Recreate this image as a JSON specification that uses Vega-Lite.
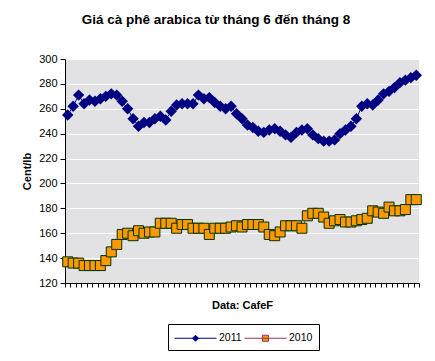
{
  "$schema": "https://vega.github.io/schema/vega-lite/v6.json",
  "width": 354,
  "height": 224,
  "autosize": {"type": "none"},
  "padding": {"left": 65, "top": 59, "right": 16, "bottom": 78},
  "background": "white",
  "config": {"view": {"fill": "#e2e2e5", "stroke": null}},
  "title": {
    "text": "Giá cà phê arabica từ tháng 6 đến tháng 8",
    "font": "Liberation Sans",
    "fontSize": 13.5,
    "fontWeight": "bold",
    "color": "black",
    "anchor": "middle",
    "frame": "group",
    "dx": -26,
    "offset": 16,
    "baseline": "alphabetic"
  },
  "data": {"values": [
    {"i":0,"year":"2011","v":255},{"i":1,"year":"2011","v":262},{"i":2,"year":"2011","v":271},{"i":3,"year":"2011","v":264},{"i":4,"year":"2011","v":267},
    {"i":5,"year":"2011","v":266},{"i":6,"year":"2011","v":268},{"i":7,"year":"2011","v":270},{"i":8,"year":"2011","v":272},{"i":9,"year":"2011","v":271},
    {"i":10,"year":"2011","v":266},{"i":11,"year":"2011","v":260},{"i":12,"year":"2011","v":252},{"i":13,"year":"2011","v":246},{"i":14,"year":"2011","v":249},
    {"i":15,"year":"2011","v":249},{"i":16,"year":"2011","v":252},{"i":17,"year":"2011","v":254},{"i":18,"year":"2011","v":251},{"i":19,"year":"2011","v":258},
    {"i":20,"year":"2011","v":263},{"i":21,"year":"2011","v":264},{"i":22,"year":"2011","v":264},{"i":23,"year":"2011","v":264},{"i":24,"year":"2011","v":271},
    {"i":25,"year":"2011","v":268},{"i":26,"year":"2011","v":269},{"i":27,"year":"2011","v":265},{"i":28,"year":"2011","v":262},{"i":29,"year":"2011","v":260},
    {"i":30,"year":"2011","v":262},{"i":31,"year":"2011","v":256},{"i":32,"year":"2011","v":252},{"i":33,"year":"2011","v":247},{"i":34,"year":"2011","v":245},
    {"i":35,"year":"2011","v":242},{"i":36,"year":"2011","v":241},{"i":37,"year":"2011","v":243},{"i":38,"year":"2011","v":244},{"i":39,"year":"2011","v":242},
    {"i":40,"year":"2011","v":239},{"i":41,"year":"2011","v":237},{"i":42,"year":"2011","v":241},{"i":43,"year":"2011","v":243},{"i":44,"year":"2011","v":244},
    {"i":45,"year":"2011","v":239},{"i":46,"year":"2011","v":236},{"i":47,"year":"2011","v":234},{"i":48,"year":"2011","v":234},{"i":49,"year":"2011","v":235},
    {"i":50,"year":"2011","v":240},{"i":51,"year":"2011","v":243},{"i":52,"year":"2011","v":246},{"i":53,"year":"2011","v":252},{"i":54,"year":"2011","v":262},
    {"i":55,"year":"2011","v":264},{"i":56,"year":"2011","v":263},{"i":57,"year":"2011","v":267},{"i":58,"year":"2011","v":272},{"i":59,"year":"2011","v":274},
    {"i":60,"year":"2011","v":277},{"i":61,"year":"2011","v":281},{"i":62,"year":"2011","v":283},{"i":63,"year":"2011","v":285},{"i":64,"year":"2011","v":287},
    {"i":0,"year":"2010","v":137},{"i":1,"year":"2010","v":136},{"i":2,"year":"2010","v":136},{"i":3,"year":"2010","v":134},{"i":4,"year":"2010","v":134},
    {"i":5,"year":"2010","v":134},{"i":6,"year":"2010","v":134},{"i":7,"year":"2010","v":138},{"i":8,"year":"2010","v":145},{"i":9,"year":"2010","v":151},
    {"i":10,"year":"2010","v":159},{"i":11,"year":"2010","v":160},{"i":12,"year":"2010","v":158},{"i":13,"year":"2010","v":162},{"i":14,"year":"2010","v":160},
    {"i":15,"year":"2010","v":161},{"i":16,"year":"2010","v":161},{"i":17,"year":"2010","v":168},{"i":18,"year":"2010","v":168},{"i":19,"year":"2010","v":168},
    {"i":20,"year":"2010","v":164},{"i":21,"year":"2010","v":167},{"i":22,"year":"2010","v":167},{"i":23,"year":"2010","v":164},{"i":24,"year":"2010","v":164},
    {"i":25,"year":"2010","v":164},{"i":26,"year":"2010","v":159},{"i":27,"year":"2010","v":164},{"i":28,"year":"2010","v":164},{"i":29,"year":"2010","v":164},
    {"i":30,"year":"2010","v":165},{"i":31,"year":"2010","v":166},{"i":32,"year":"2010","v":165},{"i":33,"year":"2010","v":167},{"i":34,"year":"2010","v":167},
    {"i":35,"year":"2010","v":167},{"i":36,"year":"2010","v":165},{"i":37,"year":"2010","v":159},{"i":38,"year":"2010","v":158},{"i":39,"year":"2010","v":161},
    {"i":40,"year":"2010","v":166},{"i":41,"year":"2010","v":166},{"i":42,"year":"2010","v":166},{"i":43,"year":"2010","v":164},{"i":44,"year":"2010","v":174},
    {"i":45,"year":"2010","v":176},{"i":46,"year":"2010","v":176},{"i":47,"year":"2010","v":173},{"i":48,"year":"2010","v":168},{"i":49,"year":"2010","v":170},
    {"i":50,"year":"2010","v":171},{"i":51,"year":"2010","v":169},{"i":52,"year":"2010","v":169},{"i":53,"year":"2010","v":170},{"i":54,"year":"2010","v":171},
    {"i":55,"year":"2010","v":172},{"i":56,"year":"2010","v":178},{"i":57,"year":"2010","v":177},{"i":58,"year":"2010","v":176},{"i":59,"year":"2010","v":181},
    {"i":60,"year":"2010","v":178},{"i":61,"year":"2010","v":178},{"i":62,"year":"2010","v":179},{"i":63,"year":"2010","v":187},{"i":64,"year":"2010","v":187}
  ]},
  "encoding": {
    "x": {
      "field": "i",
      "type": "ordinal",
      "scale": {"type": "band", "paddingInner": 0, "paddingOuter": 0},
      "axis": {
        "labels": false,
        "grid": false,
        "tickBand": "extent",
        "tickSize": 4,
        "tickColor": "black",
        "domainColor": "black",
        "title": "Data: CafeF",
        "titleFont": "Liberation Sans",
        "titleFontSize": 11,
        "titleFontWeight": "bold",
        "titleColor": "black",
        "titleX": 177,
        "titleY": 25,
        "titleBaseline": "alphabetic",
        "titleAlign": "center"
      }
    },
    "y": {
      "field": "v",
      "type": "quantitative",
      "scale": {"domain": [120, 300], "nice": false, "zero": false},
      "axis": {
        "values": [120, 140, 160, 180, 200, 220, 240, 260, 280, 300],
        "grid": true,
        "gridColor": "white",
        "gridWidth": 1,
        "gridOpacity": 1,
        "tickSize": 5,
        "tickColor": "black",
        "domainColor": "black",
        "labelFont": "Liberation Sans",
        "labelFontSize": 11,
        "labelColor": "black",
        "labelPadding": 3,
        "title": "Cent/lb",
        "titleFont": "Liberation Sans",
        "titleFontSize": 11,
        "titleFontWeight": "bold",
        "titleColor": "black",
        "titleAngle": -90,
        "titleX": -38,
        "titleY": 112,
        "titleBaseline": "middle",
        "titleAlign": "center"
      }
    }
  },
  "layer": [
    {
      "mark": {"type": "line", "strokeWidth": 1},
      "encoding": {
        "stroke": {
          "field": "year",
          "type": "nominal",
          "scale": {"domain": ["2011", "2010"], "range": ["#000080", "#993366"]},
          "legend": {
            "orient": "none",
            "direction": "horizontal",
            "legendX": 103,
            "legendY": 265,
            "title": null,
            "padding": 6,
            "strokeColor": "black",
            "fillColor": "white",
            "symbolSize": 225,
            "symbolStrokeWidth": 1,
            "symbolType": "M-1,0H4.6M1.8,-0.4L2.2,0L1.8,0.4L1.4,0Z",
            "symbolFillColor": "#000080",
            "labelOffset": 29,
            "columnPadding": 0,
            "labelFont": "Liberation Sans",
            "labelFontSize": 10.5,
            "labelColor": "black",
            "encode": {
              "symbols": {
                "update": {
                  "shape": {"signal": "datum.value === '2011' ? 'M-1,0H4.6M1.8,-0.4L2.2,0L1.8,0.4L1.4,0Z' : 'M-1,0H4.6M1.4,-0.4H2.2V0.4H1.4Z'"},
                  "fill": {"signal": "datum.value === '2011' ? '#000080' : '#FF9900'"}
                }
              }
            }
          }
        }
      }
    },
    {
      "transform": [{"filter": "datum.year === '2011'"}],
      "mark": {"type": "point", "shape": "diamond", "filled": true, "size": 130, "color": "#000080", "opacity": 1}
    },
    {
      "transform": [{"filter": "datum.year === '2010'"}],
      "mark": {"type": "point", "shape": "square", "filled": true, "size": 100, "fill": "#FF9900", "stroke": "#003300", "strokeWidth": 1, "opacity": 1}
    }
  ]
}
